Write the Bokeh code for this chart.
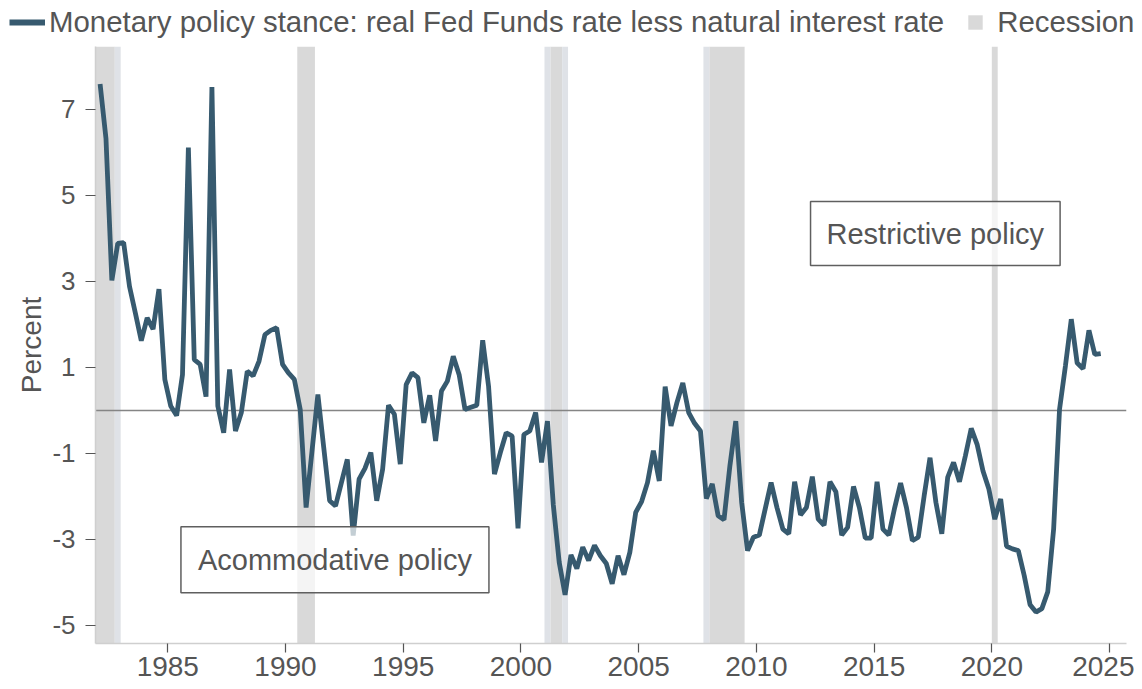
import pandas as pd
from bokeh.plotting import figure
from bokeh.layouts import column
from bokeh.models import (Range1d, BoxAnnotation, Span, Label, Legend,
                          LegendItem, FixedTicker)
from bokeh.embed import file_html
from bokeh.resources import INLINE

# ---------------- data ----------------
quarters = pd.period_range("1982Q1", "2024Q3", freq="Q")

stance = [
    7.59, 6.32, 3.02, 3.88, 3.90, 2.88, 2.26, 1.62, 2.15, 1.89,
    2.82, 0.72, 0.10, -0.12, 0.83, 6.11, 1.18, 1.07, 0.32, 7.52,
    0.10, -0.52, 0.95, -0.48, -0.05, 0.91, 0.80, 1.14, 1.76, 1.86,
    1.92, 1.07, 0.87, 0.72, 0.02, -2.26, -0.95, 0.37, -0.87, -2.10,
    -2.22, -1.68, -1.14, -2.91, -1.60, -1.35, -0.98, -2.10, -1.37, 0.12,
    -0.09, -1.25, 0.60, 0.87, 0.76, -0.29, 0.35, -0.71, 0.45, 0.68,
    1.26, 0.83, 0.02, 0.07, 0.12, 1.63, 0.56, -1.48, -0.98, -0.52,
    -0.60, -2.74, -0.56, -0.48, -0.05, -1.21, -0.25, -2.20, -3.53, -4.29,
    -3.36, -3.68, -3.18, -3.49, -3.14, -3.38, -3.56, -4.03, -3.38, -3.82,
    -3.30, -2.37, -2.12, -1.68, -0.94, -1.64, 0.55, -0.36, 0.18, 0.64,
    -0.05, -0.30, -0.48, -2.05, -1.71, -2.45, -2.54, -1.29, -0.25, -2.14,
    -3.26, -2.95, -2.90, -2.29, -1.68, -2.26, -2.76, -2.87, -1.66, -2.43,
    -2.26, -1.54, -2.53, -2.67, -1.66, -1.89, -2.90, -2.72, -1.77, -2.26,
    -2.97, -2.97, -1.66, -2.76, -2.90, -2.26, -1.69, -2.26, -3.03, -2.95,
    -1.99, -1.10, -2.14, -2.87, -1.56, -1.21, -1.66, -1.06, -0.42, -0.79,
    -1.41, -1.83, -2.53, -2.06, -3.16, -3.22, -3.26, -3.84, -4.52, -4.69,
    -4.61, -4.22, -2.76, 0.02, 1.03, 2.12, 1.10, 0.97, 1.86, 1.30,
    1.32,
]

# recession periods (decimal years); main shading and lighter edge quarters
rec_start = [1981.5, 1990.5, 2001.25, 2008.0, 2020.0]
rec_end = [1982.75, 1991.25, 2001.75, 2009.5, 2020.25]
rec_edge_start = [1982.75, 2001.0, 2001.75, 2007.75]
rec_edge_end = [1983.0, 2001.25, 2002.0, 2008.0]

x_ticks = [1985, 1990, 1995, 2000, 2005, 2010, 2015, 2020, 2025]
y_ticks = [-5, -3, -1, 1, 3, 5, 7]

series_label = "Monetary policy stance: real Fed Funds rate less natural interest rate"
recession_label = "Recession"

years = [q.year + (q.quarter - 0.5) / 4 for q in quarters]

# ---------------- style ----------------
FONT = "Liberation Sans"
TXT = "#555555"
LINE = "#375a6f"
BAND = "#d9d9d9"
BAND_EDGE = "#dfe2e7"
FRAME_W, FRAME_H = 1031, 597
LEFT, RIGHT = 95, 8

# ---------------- legend strip ----------------
leg = figure(width=1142, height=46, output_backend="svg", toolbar_location=None,
             x_axis_type=None, y_axis_type=None,
             x_range=Range1d(0, 1), y_range=Range1d(0, 1),
             min_border=0)
leg.frame_align = False
leg.outline_line_color = None
leg.grid.visible = False
leg_line = leg.line(x=[float("nan")], y=[float("nan")], line_color=LINE, line_width=6)
leg_rec = leg.scatter(x=[float("nan")], y=[float("nan")], marker="square",
                      size=16, fill_color=BAND, line_color=None)
legend = Legend(
    items=[LegendItem(label=series_label, renderers=[leg_line]),
           LegendItem(label=recession_label, renderers=[leg_rec])],
    orientation="horizontal", location=(9, 5), padding=0, margin=0,
    spacing=13, glyph_width=36, glyph_height=38, label_standoff=4,
    label_height=38, label_text_font=FONT, label_text_font_size="29.4px",
    label_text_color=TXT, border_line_color=None, background_fill_alpha=0,
)
leg.add_layout(legend, "center")

# ---------------- main plot ----------------
p = figure(frame_width=FRAME_W, frame_height=FRAME_H, output_backend="svg",
           toolbar_location=None,
           x_range=Range1d(1981.93, 2025.72), y_range=Range1d(-5.42, 8.46),
           min_border_left=LEFT, min_border_right=RIGHT, min_border_top=0,
           min_border_bottom=0)
p.frame_align = False
p.outline_line_color = None
p.grid.visible = False
p.background_fill_color = "white"
p.border_fill_color = "white"

p.xaxis.ticker = FixedTicker(ticks=x_ticks)
p.yaxis.ticker = FixedTicker(ticks=y_ticks)
p.yaxis.major_label_overrides = {t: str(t) for t in y_ticks}
for ax in (p.xaxis[0], p.yaxis[0]):
    ax.axis_line_color = "#cfcfcf"
    ax.axis_line_width = 1.5
    ax.major_tick_line_color = "#555555"
    ax.major_tick_line_width = 1.2
    ax.major_tick_in = 0
    ax.minor_tick_line_color = None
    ax.major_label_text_font = FONT
    ax.major_label_text_color = TXT
p.yaxis.major_tick_out = 10
p.xaxis.major_tick_out = 9
p.yaxis.major_label_text_font_size = "26px"
p.xaxis.major_label_text_font_size = "28px"
p.xaxis.major_label_standoff = 4
p.yaxis.major_label_standoff = 10
p.yaxis.axis_label = "Percent"
p.yaxis.axis_label_text_font = FONT
p.yaxis.axis_label_text_font_size = "28px"
p.yaxis.axis_label_text_font_style = "normal"
p.yaxis.axis_label_text_color = TXT
p.yaxis.axis_label_standoff = 2

# recession shading
for s, e in zip(rec_start, rec_end):
    p.add_layout(BoxAnnotation(left=s, right=e, fill_color=BAND,
                               fill_alpha=1.0, line_color=None, level="underlay"))
for s, e in zip(rec_edge_start, rec_edge_end):
    p.add_layout(BoxAnnotation(left=s, right=e, fill_color=BAND_EDGE,
                               fill_alpha=1.0, line_color=None, level="underlay"))

# zero line
p.add_layout(Span(location=0, dimension="width", line_color="#858585",
                  line_width=1.5, level="underlay"))

p.line(years, stance, line_color=LINE, line_width=4.8, line_join="bevel")

for tx, ty, txt, pad in [(1992.1, -3.47, "Acommodative policy", 17),
                         (2017.6, 4.11, "Restrictive policy", 16)]:
    p.add_layout(Label(x=tx, y=ty, text=txt, text_align="center",
                       text_baseline="middle", text_font=FONT,
                       text_font_size="29px", text_color=TXT,
                       border_line_color="#5f5f5f", border_line_width=1.5,
                       background_fill_color="white", background_fill_alpha=0.7,
                       padding=pad))

layout = column(leg, p, spacing=0)
open("out.html", "w").write(file_html(layout, INLINE))
